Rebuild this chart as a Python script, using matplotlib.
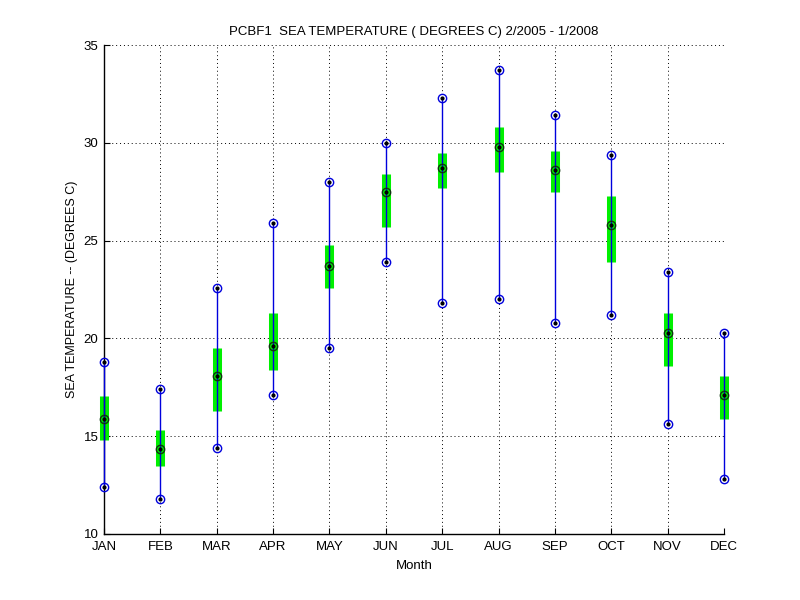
import matplotlib
matplotlib.use("Agg")
import matplotlib.pyplot as plt
import numpy as np

months = ["JAN", "FEB", "MAR", "APR", "MAY", "JUN", "JUL", "AUG", "SEP", "OCT", "NOV", "DEC"]
max_vals = [18.8, 17.4, 22.6, 25.9, 28.0, 30.0, 32.3, 33.7, 31.4, 29.4, 23.4, 20.3]
q3_vals = [17.05, 15.3, 19.5, 21.3, 24.8, 28.4, 29.5, 30.8, 29.6, 27.3, 21.3, 18.1]
median_vals = [15.9, 14.35, 18.1, 19.6, 23.7, 27.5, 28.7, 29.8, 28.6, 25.8, 20.3, 17.1]
q1_vals = [14.8, 13.5, 16.3, 18.4, 22.6, 25.7, 27.7, 28.5, 27.5, 23.9, 18.6, 15.9]
min_vals = [12.4, 11.8, 14.4, 17.1, 19.5, 23.9, 21.8, 22.0, 20.8, 21.2, 15.6, 12.8]
y_ticks = [10, 15, 20, 25, 30, 35]

plt.rcParams['font.family'] = ['Liberation Sans', 'DejaVu Sans']

fig = plt.figure(figsize=(8, 6), dpi=100)
ax = fig.add_axes([0.13, 0.11, 0.775, 0.815])

x = np.arange(1, len(months) + 1)

ax.vlines(x, q1_vals, q3_vals, colors='#00f000', linewidth=6.5, zorder=2, clip_on=False)
ax.vlines(x, min_vals, max_vals, colors='#0000dd', linewidth=1.0, zorder=3, clip_on=False)
ax.plot(x, max_vals, 'o', mfc='none', mec='#0000dd', ms=6, mew=1.0, zorder=4, clip_on=False)
ax.plot(x, min_vals, 'o', mfc='none', mec='#0000dd', ms=6, mew=1.0, zorder=4, clip_on=False)
ax.plot(x, median_vals, 'o', mfc='none', mec='#113311', ms=6, mew=1.0, zorder=4, clip_on=False)
for vals in (max_vals, min_vals, median_vals):
    ax.plot(x, vals, '.', color='black', ms=4, zorder=5, clip_on=False)

ax.set_xlim(1, 12)
ax.set_ylim(10, 35)
ax.set_xticks(x)
ax.set_xticklabels(months)
ax.set_yticks(y_ticks)

ax.grid(True, color='black', linestyle=(0, (1, 3)), linewidth=0.7)
ax.set_axisbelow(True)
for s in ('top', 'right'):
    ax.spines[s].set_visible(False)
for s in ('left', 'bottom'):
    ax.spines[s].set_linewidth(1.0)
ax.tick_params(direction='in', length=4, width=0.8, labelsize=9.5)
ax.tick_params(axis='x', pad=5)
ax.tick_params(axis='y', pad=4)

ax.set_title("PCBF1  SEA TEMPERATURE ( DEGREES C) 2/2005 - 1/2008", fontsize=9.5, pad=7)
ax.set_xlabel("Month", fontsize=9.5, labelpad=5)
ax.set_ylabel("SEA TEMPERATURE -- (DEGREES C)", fontsize=9, labelpad=4)

fig.savefig("out.png", dpi=100, facecolor='white')
